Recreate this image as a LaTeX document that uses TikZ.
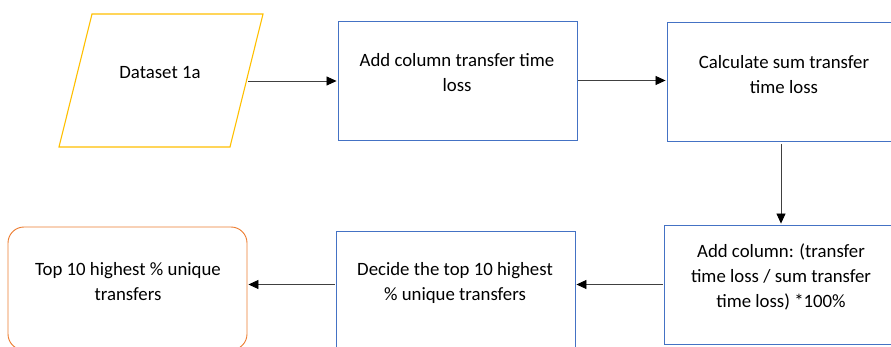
\documentclass[tikz,border=0pt]{standalone}
\usepackage{fontspec}
\setmainfont{Carlito}
\usetikzlibrary{arrows.meta}
\definecolor{cyellow}{HTML}{FFC000}
\definecolor{cblue}{HTML}{4472C4}
\definecolor{corange}{HTML}{ED7D31}
\definecolor{cline}{HTML}{404040}
\tikzset{
  procbox/.style={draw=cblue, line width=0.9pt, minimum width=239pt, minimum height=119pt, inner sep=0pt},
  endbox/.style={draw=corange, line width=0.9pt, rounded corners=16pt, minimum width=239pt, minimum height=123pt, inner sep=0pt},
  iobox/.style={draw=cyellow, line width=1.1pt},
  lbl/.style={align=center, font=\fontsize{18.8}{25}\selectfont, inner sep=0pt, text=black},
  flow/.style={draw=cline, line width=0.8pt, -{Triangle[length=10pt,width=9pt,color=black]}, shorten >=1pt}
}
\begin{document}
\begin{tikzpicture}[x=1pt,y=-1pt]
\clip (0,0) rectangle (891,347);
\fill[white] (0,0) rectangle (891,347);
% input parallelogram
\draw[iobox] (92,14) -- (263,14) -- (230,147) -- (59,147) -- cycle;
\coordinate (dsR) at (248,81);
\node[lbl] (tds) at (160,73) {Dataset 1a};
% process boxes
\node[procbox] (b2) at (457.5,80.5) {};
\node[lbl] (t2) at (457,72.5) {Add column transfer time\\loss};
\node[procbox] (b3) at (786.5,82) {};
\node[lbl] (t3) at (784,74.5) {Calculate sum transfer\\time loss};
\node[procbox] (b6) at (783.5,284.5) {};
\node[lbl] (t6) at (781,276.5) {Add column: (transfer\\time loss / sum transfer\\time loss) *100\%};
\node[procbox] (b5) at (455.5,290.5) {};
\node[lbl] (t5) at (455,282.5) {Decide the top 10 highest\\\% unique transfers};
\node[endbox] (b4) at (127.5,288.5) {};
\node[lbl] (t4) at (128,282) {Top 10 highest \% unique\\transfers};
% connectors
\coordinate (vx) at (781,0);
\draw[flow] (dsR) -- (dsR -| b2.west);
\draw[flow] ([xshift=1pt]b2.east) -- (b2.east -| b3.west);
\draw[flow, shorten <=2pt] (vx |- b3.south) -- (vx |- b6.north);
\draw[flow] ([xshift=-1pt]b6.west) -- (b6.west -| b5.east);
\draw[flow] ([xshift=-1pt]b6.west -| b5.west) -- (b6.west -| b4.east);
\end{tikzpicture}
\end{document}
